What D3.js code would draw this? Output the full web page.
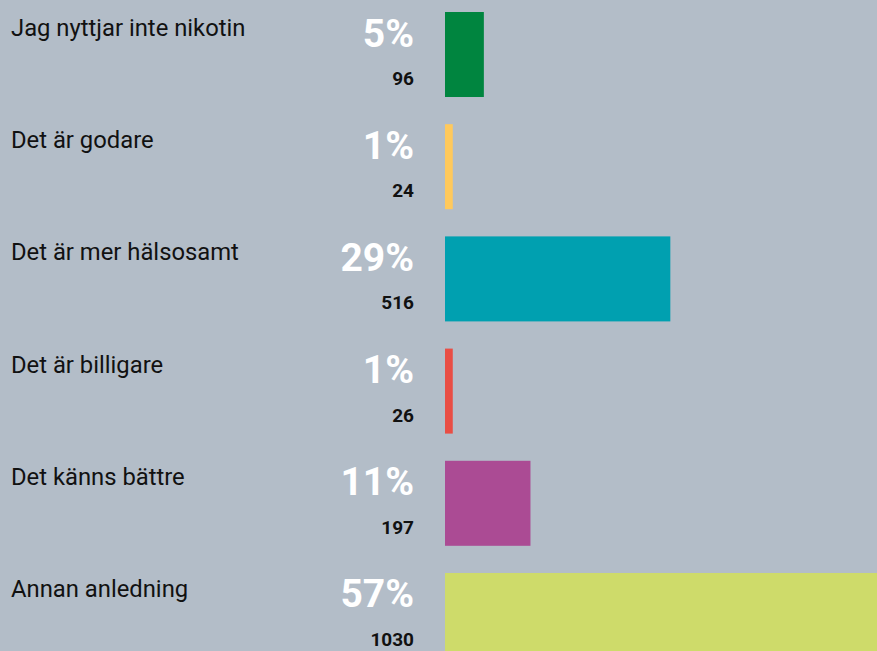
<!DOCTYPE html>
<html>
<head>
<meta charset="utf-8">
<script src="https://cdn.jsdelivr.net/npm/d3@7"></script>
<style>
  html, body { margin: 0; padding: 0; background: #b3bdc8; overflow: hidden; }
  svg { display: block; font-family: Roboto, "Noto Sans", sans-serif; }
</style>
</head>
<body>
<svg id="chart"></svg>
<script>
var categories = ["Jag nyttjar inte nikotin", "Det är godare", "Det är mer hälsosamt", "Det är billigare", "Det känns bättre", "Annan anledning"];
var percents = [5, 1, 29, 1, 11, 57];
var counts = [96, 24, 516, 26, 197, 1030];
var colors = ["#00853f", "#ffc95c", "#00a0b0", "#e94e45", "#ab4b94", "#cedb6a"];

var width = 877, height = 651;
var barX = 445;

var svg = d3.select('#chart').attr('width', width).attr('height', height);

var y = d3.scaleBand()
    .domain(categories)
    .range([12, 658])
    .paddingInner(0.2424)
    .paddingOuter(0);

var x = d3.scaleLinear().domain([0, 100]).range([0, 777]);

var rows = svg.selectAll('g.row')
    .data(categories)
    .enter().append('g')
    .attr('class', 'row')
    .attr('transform', function(d) { return 'translate(0,' + y(d) + ')'; });

rows.append('rect')
    .attr('x', barX)
    .attr('y', 0)
    .attr('width', function(d, i) { return x(percents[i]); })
    .attr('height', y.bandwidth())
    .style('fill', function(d, i) { return colors[i]; });

rows.append('text')
    .attr('x', 11)
    .attr('y', 24)
    .style('font-size', '23.8px')
    .style('fill', '#111')
    .text(function(d) { return d; });

rows.append('text')
    .attr('x', 414)
    .attr('y', 34.5)
    .attr('text-anchor', 'end')
    .style('font-size', '39px')
    .style('font-weight', 'bold')
    .style('fill', '#fff')
    .text(function(d, i) { return percents[i] + '%'; });

rows.append('text')
    .attr('x', 414)
    .attr('y', 73)
    .attr('text-anchor', 'end')
    .style('font-size', '19px')
    .style('font-weight', 'bold')
    .style('fill', '#111')
    .text(function(d, i) { return counts[i]; });
</script>
</body>
</html>
